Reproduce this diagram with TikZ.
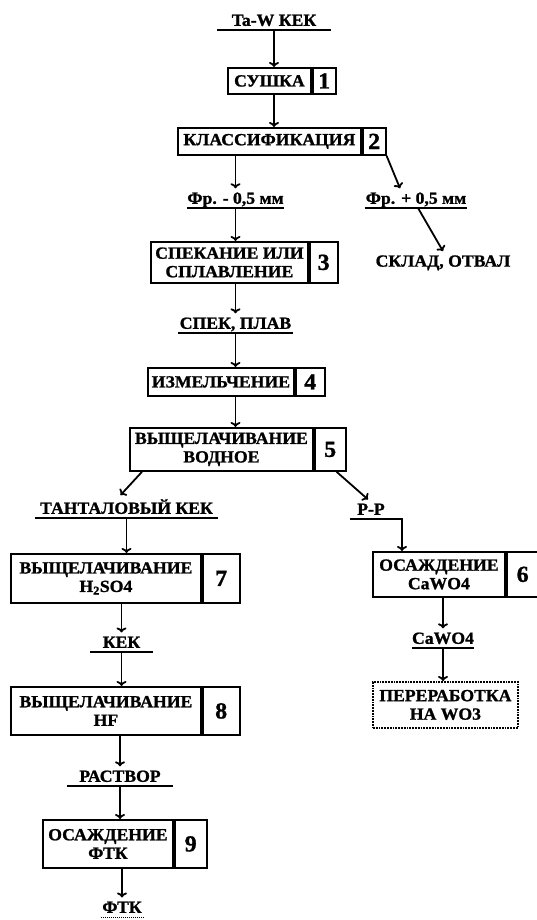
\documentclass[tikz,border=0pt]{standalone}
\usepackage{fontspec}
\setmainfont[FakeStretch=1.04, BoldFeatures={FakeBold=1.2}]{Liberation Serif}
\usepackage{tikz}
\usetikzlibrary{arrows.meta}

\tikzset{
	stage/.style={draw, line width=1.8pt, anchor=north west, align=center, inner sep=2pt,
		font=\fontsize{17}{18.5}\selectfont\bfseries},
	stagenum/.style={draw, line width=1.8pt, anchor=north west, inner sep=0pt,
		font=\fontsize{23}{23}\selectfont\bfseries},
	product/.style={anchor=south, inner xsep=0pt, inner ysep=4pt, text depth=0pt,
		font=\fontsize{17}{18.5}\selectfont\bfseries},
	uline/.style={line width=2pt},
	flow/.style={line width=1.8pt, -{To[length=5pt, width=10pt]}},
}

\begin{document}
\begin{tikzpicture}[x=1pt, y=-1pt]
		\useasboundingbox (0,0) rectangle (537,920);
		%----------------------------------------------------
		% Stages: text box + number box glued on its right
		%----------------------------------------------------
		\node[stage, minimum width=83pt, minimum height=26pt] (s1) at (227,67) {СУШКА};
		\node[stagenum, minimum width=23pt, minimum height=26pt] (n1) at (s1.north east) {1};
		\node[stage, minimum width=183pt, minimum height=27pt] (s2) at (177,127) {КЛАССИФИКАЦИЯ};
		\node[stagenum, minimum width=23pt, minimum height=27pt] (n2) at (s2.north east) {2};
		\node[stage, minimum width=157pt, minimum height=41pt] (s3) at (150,241) {СПЕКАНИЕ ИЛИ\\СПЛАВЛЕНИЕ};
		\node[stagenum, minimum width=28pt, minimum height=41pt] (n3) at (s3.north east) {3};
		\node[stage, minimum width=146pt, minimum height=28pt] (s4) at (147,367) {ИЗМЕЛЬЧЕНИЕ};
		\node[stagenum, minimum width=29pt, minimum height=28pt] (n4) at (s4.north east) {4};
		\node[stage, minimum width=183pt, minimum height=43pt] (s5) at (129,427) {ВЫЩЕЛАЧИВАНИЕ\\ВОДНОЕ};
		\node[stagenum, minimum width=31pt, minimum height=43pt] (n5) at (s5.north east) {5};
		\node[stage, minimum width=132pt, minimum height=45pt] (s6) at (372,551) {ОСАЖДЕНИЕ\\CaWO4};
		\node[stagenum, minimum width=32pt, minimum height=45pt] (n6) at (s6.north east) {6};
		\node[stage, minimum width=190pt, minimum height=49pt] (s7) at (10,553) {ВЫЩЕЛАЧИВАНИЕ\\H\textsubscript{2}SO4};
		\node[stagenum, minimum width=37pt, minimum height=49pt] (n7) at (s7.north east) {7};
		\node[stage, minimum width=190pt, minimum height=48pt] (s8) at (10,686) {ВЫЩЕЛАЧИВАНИЕ\\HF};
		\node[stagenum, minimum width=37pt, minimum height=48pt] (n8) at (s8.north east) {8};
		\node[stage, minimum width=130pt, minimum height=48pt] (s9) at (42,819) {ОСАЖДЕНИЕ\\ФТК};
		\node[stagenum, minimum width=32pt, minimum height=48pt] (n9) at (s9.north east) {9};
		\node[stage, densely dotted, minimum width=145pt, minimum height=46pt] (s10) at (372,681) {ПЕРЕРАБОТКА\\НА WO3};
		
		%----------------------------------------------------
		% Products, underlined
		%----------------------------------------------------
		\node[product, minimum width=114pt] (l0) at (274,30) {Ta-W КЕК};
		\node[product, minimum width=95pt] (l1) at (235.5,208) {Фр. - 0,5 мм};
		\node[product, minimum width=102pt] (l2) at (416,208) {Фр. + 0,5 мм};
		\node[product, anchor=center] (l3) at (443,261) {СКЛАД, ОТВАЛ};
		\node[product, minimum width=115pt] (l4) at (235.5,333) {СПЕК, ПЛАВ};
		\node[product, minimum width=183pt] (l5) at (126.5,518) {ТАНТАЛОВЫЙ КЕК};
		\node[product] (l6) at (371,519) {Р-Р};
		\node[product, minimum width=63pt] (l7) at (121.5,652) {КЕК};
		\node[product, minimum width=106pt] (l8) at (120,786) {РАСТВОР};
		\node[product, minimum width=42pt] (l9) at (122,917) {ФТК};
		\node[product, minimum width=60pt] (l10) at (443,648) {CaWO4};
		\foreach \l in {l0,l1,l2,l4,l5,l7,l8,l10}
			\draw[uline] (\l.south west) -- (\l.south east);
		\draw[densely dotted, line width=1pt] (l9.south west) -- (l9.south east);
		
		%----------------------------------------------------
		% Flow arrows
		%----------------------------------------------------
		\draw[flow] (l0.south) -- (l0.south |- s1.north);
		\draw[flow] (l0.south |- s1.south) -- (l0.south |- s2.north);
		\draw[flow] (l1.north |- s2.south) -- (l1.north);
		\draw[flow] (n2.south east) -- ([xshift=-16pt]l2.north);
		\draw[flow] ([xshift=2pt]l2.south) -- (l3.north);
		\draw[flow] (l1.south) -- (l1.south |- s3.north);
		\draw[flow] (l4.north |- s3.south) -- (l4.north);
		\draw[flow] (l4.south) -- (l4.south |- s4.north);
		\draw[flow] (l4.south |- s4.south) -- (l4.south |- s5.north);
		% leaching splits into cake and solution
		\draw[flow] ([xshift=13pt]s5.south west) -- ([xshift=-6pt]l5.north);
		\draw[flow] ([xshift=-10pt]n5.south east) -- ([xshift=-3pt]l6.north);
		\draw[flow] ([xshift=-7pt]l6.south west) -| ([xshift=30pt]s6.north west);
		% tantalum line
		\draw[flow] (l5.south) -- (l5.south |- s7.north);
		\draw[flow] (l7.north |- s7.south) -- (l7.north);
		\draw[flow] (l7.south) -- (l7.south |- s8.north);
		\draw[flow] (l8.north |- s8.south) -- (l8.north);
		\draw[flow] (l8.south) -- (l8.south |- s9.north);
		\draw[flow] (l9.north |- s9.south) -- (l9.north);
		% tungsten line
		\draw[flow] (l10.north |- s6.south) -- (l10.north);
		\draw[flow] (l10.south) -- (l10.south |- s10.north);
	\end{tikzpicture}
\end{document}
